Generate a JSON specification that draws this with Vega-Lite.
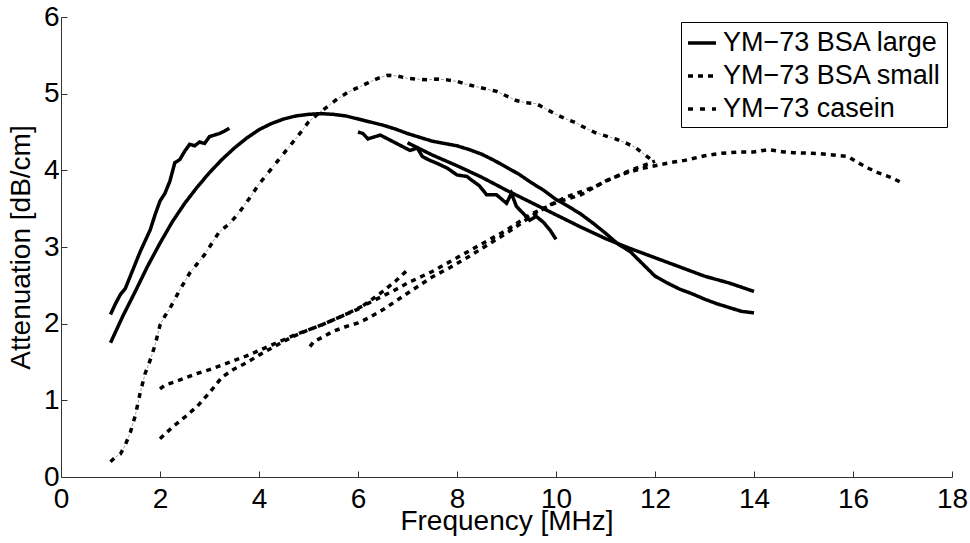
{
  "$schema": "https://vega.github.io/schema/vega-lite/v6.json",
  "width": 891,
  "height": 460,
  "autosize": {"type": "none"},
  "padding": {"left": 61, "top": 17, "right": 18, "bottom": 66},
  "background": "white",
  "config": {
    "view": {"stroke": null},
    "font": "Liberation Sans",
    "axis": {
      "labelFont": "Liberation Sans",
      "labelFontSize": 28,
      "labelColor": "black",
      "titleFont": "Liberation Sans",
      "titleFontSize": 28,
      "titleFontWeight": "normal",
      "titleColor": "black",
      "domainColor": "#333333",
      "tickColor": "#333333",
      "tickSize": -6,
      "grid": false,
      "labelOverlap": false,
      "labelFlush": false,
      "labelBound": false
    },
    "legend": {
      "orient": "top-right",
      "offset": 5,
      "strokeColor": "black",
      "fillColor": "white",
      "padding": 5,
      "cornerRadius": 0,
      "symbolType": "stroke",
      "symbolSize": 784,
      "symbolStrokeWidth": 3.5,
      "symbolStrokeColor": "black",
      "labelFont": "Liberation Sans",
      "labelFontSize": 27,
      "labelColor": "black",
      "labelOffset": 5,
      "labelLimit": 400,
      "rowPadding": 4
    }
  },
  "data": {
    "values": [
      {"s": "YM−73 BSA large", "g": "L1", "f": 1.0, "a": 2.12},
      {"s": "YM−73 BSA large", "g": "L1", "f": 1.1, "a": 2.26},
      {"s": "YM−73 BSA large", "g": "L1", "f": 1.2, "a": 2.38},
      {"s": "YM−73 BSA large", "g": "L1", "f": 1.3, "a": 2.46},
      {"s": "YM−73 BSA large", "g": "L1", "f": 1.4, "a": 2.62},
      {"s": "YM−73 BSA large", "g": "L1", "f": 1.5, "a": 2.78},
      {"s": "YM−73 BSA large", "g": "L1", "f": 1.6, "a": 2.94},
      {"s": "YM−73 BSA large", "g": "L1", "f": 1.7, "a": 3.08},
      {"s": "YM−73 BSA large", "g": "L1", "f": 1.8, "a": 3.22},
      {"s": "YM−73 BSA large", "g": "L1", "f": 1.9, "a": 3.42},
      {"s": "YM−73 BSA large", "g": "L1", "f": 2.0, "a": 3.6},
      {"s": "YM−73 BSA large", "g": "L1", "f": 2.1, "a": 3.7},
      {"s": "YM−73 BSA large", "g": "L1", "f": 2.2, "a": 3.86},
      {"s": "YM−73 BSA large", "g": "L1", "f": 2.3, "a": 4.1},
      {"s": "YM−73 BSA large", "g": "L1", "f": 2.4, "a": 4.14},
      {"s": "YM−73 BSA large", "g": "L1", "f": 2.5, "a": 4.25},
      {"s": "YM−73 BSA large", "g": "L1", "f": 2.6, "a": 4.34},
      {"s": "YM−73 BSA large", "g": "L1", "f": 2.7, "a": 4.32},
      {"s": "YM−73 BSA large", "g": "L1", "f": 2.8, "a": 4.37},
      {"s": "YM−73 BSA large", "g": "L1", "f": 2.9, "a": 4.35},
      {"s": "YM−73 BSA large", "g": "L1", "f": 3.0, "a": 4.44},
      {"s": "YM−73 BSA large", "g": "L1", "f": 3.1, "a": 4.46},
      {"s": "YM−73 BSA large", "g": "L1", "f": 3.2, "a": 4.48},
      {"s": "YM−73 BSA large", "g": "L1", "f": 3.3, "a": 4.51},
      {"s": "YM−73 BSA large", "g": "L1", "f": 3.4, "a": 4.55},

      {"s": "YM−73 BSA large", "g": "L2", "f": 1.0, "a": 1.75},
      {"s": "YM−73 BSA large", "g": "L2", "f": 1.25, "a": 2.1},
      {"s": "YM−73 BSA large", "g": "L2", "f": 1.5, "a": 2.42},
      {"s": "YM−73 BSA large", "g": "L2", "f": 1.75, "a": 2.75},
      {"s": "YM−73 BSA large", "g": "L2", "f": 2.0, "a": 3.05},
      {"s": "YM−73 BSA large", "g": "L2", "f": 2.25, "a": 3.33},
      {"s": "YM−73 BSA large", "g": "L2", "f": 2.5, "a": 3.57},
      {"s": "YM−73 BSA large", "g": "L2", "f": 2.75, "a": 3.78},
      {"s": "YM−73 BSA large", "g": "L2", "f": 3.0, "a": 3.97},
      {"s": "YM−73 BSA large", "g": "L2", "f": 3.25, "a": 4.14},
      {"s": "YM−73 BSA large", "g": "L2", "f": 3.5, "a": 4.29},
      {"s": "YM−73 BSA large", "g": "L2", "f": 3.75, "a": 4.42},
      {"s": "YM−73 BSA large", "g": "L2", "f": 4.0, "a": 4.53},
      {"s": "YM−73 BSA large", "g": "L2", "f": 4.25, "a": 4.61},
      {"s": "YM−73 BSA large", "g": "L2", "f": 4.5, "a": 4.67},
      {"s": "YM−73 BSA large", "g": "L2", "f": 4.75, "a": 4.71},
      {"s": "YM−73 BSA large", "g": "L2", "f": 5.0, "a": 4.73},
      {"s": "YM−73 BSA large", "g": "L2", "f": 5.25, "a": 4.74},
      {"s": "YM−73 BSA large", "g": "L2", "f": 5.5, "a": 4.73},
      {"s": "YM−73 BSA large", "g": "L2", "f": 5.75, "a": 4.71},
      {"s": "YM−73 BSA large", "g": "L2", "f": 6.0, "a": 4.67},
      {"s": "YM−73 BSA large", "g": "L2", "f": 6.25, "a": 4.63},
      {"s": "YM−73 BSA large", "g": "L2", "f": 6.5, "a": 4.59},
      {"s": "YM−73 BSA large", "g": "L2", "f": 6.75, "a": 4.54},
      {"s": "YM−73 BSA large", "g": "L2", "f": 7.0, "a": 4.48},
      {"s": "YM−73 BSA large", "g": "L2", "f": 7.25, "a": 4.43},
      {"s": "YM−73 BSA large", "g": "L2", "f": 7.5, "a": 4.38},
      {"s": "YM−73 BSA large", "g": "L2", "f": 7.75, "a": 4.35},
      {"s": "YM−73 BSA large", "g": "L2", "f": 8.0, "a": 4.32},
      {"s": "YM−73 BSA large", "g": "L2", "f": 8.25, "a": 4.27},
      {"s": "YM−73 BSA large", "g": "L2", "f": 8.5, "a": 4.21},
      {"s": "YM−73 BSA large", "g": "L2", "f": 8.75, "a": 4.13},
      {"s": "YM−73 BSA large", "g": "L2", "f": 9.0, "a": 4.04},
      {"s": "YM−73 BSA large", "g": "L2", "f": 9.25, "a": 3.95},
      {"s": "YM−73 BSA large", "g": "L2", "f": 9.5, "a": 3.84},
      {"s": "YM−73 BSA large", "g": "L2", "f": 9.75, "a": 3.74},
      {"s": "YM−73 BSA large", "g": "L2", "f": 10.0, "a": 3.62},
      {"s": "YM−73 BSA large", "g": "L2", "f": 10.25, "a": 3.53},
      {"s": "YM−73 BSA large", "g": "L2", "f": 10.5, "a": 3.43},
      {"s": "YM−73 BSA large", "g": "L2", "f": 10.75, "a": 3.31},
      {"s": "YM−73 BSA large", "g": "L2", "f": 11.0, "a": 3.18},
      {"s": "YM−73 BSA large", "g": "L2", "f": 11.25, "a": 3.04},
      {"s": "YM−73 BSA large", "g": "L2", "f": 11.5, "a": 2.94},
      {"s": "YM−73 BSA large", "g": "L2", "f": 11.75, "a": 2.78},
      {"s": "YM−73 BSA large", "g": "L2", "f": 12.0, "a": 2.62},
      {"s": "YM−73 BSA large", "g": "L2", "f": 12.25, "a": 2.53},
      {"s": "YM−73 BSA large", "g": "L2", "f": 12.5, "a": 2.45},
      {"s": "YM−73 BSA large", "g": "L2", "f": 12.75, "a": 2.39},
      {"s": "YM−73 BSA large", "g": "L2", "f": 13.0, "a": 2.32},
      {"s": "YM−73 BSA large", "g": "L2", "f": 13.25, "a": 2.26},
      {"s": "YM−73 BSA large", "g": "L2", "f": 13.5, "a": 2.21},
      {"s": "YM−73 BSA large", "g": "L2", "f": 13.75, "a": 2.16},
      {"s": "YM−73 BSA large", "g": "L2", "f": 14.0, "a": 2.14},

      {"s": "YM−73 BSA large", "g": "L3", "f": 7.0, "a": 4.36},
      {"s": "YM−73 BSA large", "g": "L3", "f": 7.5, "a": 4.2},
      {"s": "YM−73 BSA large", "g": "L3", "f": 8.0, "a": 4.06},
      {"s": "YM−73 BSA large", "g": "L3", "f": 8.5, "a": 3.91},
      {"s": "YM−73 BSA large", "g": "L3", "f": 9.0, "a": 3.74},
      {"s": "YM−73 BSA large", "g": "L3", "f": 9.5, "a": 3.58},
      {"s": "YM−73 BSA large", "g": "L3", "f": 10.0, "a": 3.42},
      {"s": "YM−73 BSA large", "g": "L3", "f": 10.5, "a": 3.26},
      {"s": "YM−73 BSA large", "g": "L3", "f": 11.0, "a": 3.11},
      {"s": "YM−73 BSA large", "g": "L3", "f": 11.5, "a": 2.98},
      {"s": "YM−73 BSA large", "g": "L3", "f": 12.0, "a": 2.86},
      {"s": "YM−73 BSA large", "g": "L3", "f": 12.5, "a": 2.74},
      {"s": "YM−73 BSA large", "g": "L3", "f": 13.0, "a": 2.62},
      {"s": "YM−73 BSA large", "g": "L3", "f": 13.5, "a": 2.53},
      {"s": "YM−73 BSA large", "g": "L3", "f": 14.0, "a": 2.42},

      {"s": "YM−73 BSA large", "g": "L4", "f": 6.0, "a": 4.5},
      {"s": "YM−73 BSA large", "g": "L4", "f": 6.1, "a": 4.48},
      {"s": "YM−73 BSA large", "g": "L4", "f": 6.2, "a": 4.41},
      {"s": "YM−73 BSA large", "g": "L4", "f": 6.3, "a": 4.43},
      {"s": "YM−73 BSA large", "g": "L4", "f": 6.45, "a": 4.46},
      {"s": "YM−73 BSA large", "g": "L4", "f": 6.6, "a": 4.41},
      {"s": "YM−73 BSA large", "g": "L4", "f": 6.75, "a": 4.36},
      {"s": "YM−73 BSA large", "g": "L4", "f": 6.9, "a": 4.31},
      {"s": "YM−73 BSA large", "g": "L4", "f": 7.05, "a": 4.26},
      {"s": "YM−73 BSA large", "g": "L4", "f": 7.2, "a": 4.29},
      {"s": "YM−73 BSA large", "g": "L4", "f": 7.3, "a": 4.18},
      {"s": "YM−73 BSA large", "g": "L4", "f": 7.45, "a": 4.13},
      {"s": "YM−73 BSA large", "g": "L4", "f": 7.6, "a": 4.09},
      {"s": "YM−73 BSA large", "g": "L4", "f": 7.8, "a": 4.03},
      {"s": "YM−73 BSA large", "g": "L4", "f": 8.0, "a": 3.94},
      {"s": "YM−73 BSA large", "g": "L4", "f": 8.2, "a": 3.92},
      {"s": "YM−73 BSA large", "g": "L4", "f": 8.3, "a": 3.87},
      {"s": "YM−73 BSA large", "g": "L4", "f": 8.45, "a": 3.8},
      {"s": "YM−73 BSA large", "g": "L4", "f": 8.6, "a": 3.68},
      {"s": "YM−73 BSA large", "g": "L4", "f": 8.8, "a": 3.68},
      {"s": "YM−73 BSA large", "g": "L4", "f": 9.0, "a": 3.57},
      {"s": "YM−73 BSA large", "g": "L4", "f": 9.1, "a": 3.7},
      {"s": "YM−73 BSA large", "g": "L4", "f": 9.2, "a": 3.53},
      {"s": "YM−73 BSA large", "g": "L4", "f": 9.35, "a": 3.43},
      {"s": "YM−73 BSA large", "g": "L4", "f": 9.47, "a": 3.35},
      {"s": "YM−73 BSA large", "g": "L4", "f": 9.6, "a": 3.4},
      {"s": "YM−73 BSA large", "g": "L4", "f": 9.75, "a": 3.32},
      {"s": "YM−73 BSA large", "g": "L4", "f": 9.88, "a": 3.22},
      {"s": "YM−73 BSA large", "g": "L4", "f": 10.0, "a": 3.1},

      {"s": "YM−73 BSA small", "g": "M1", "f": 2.0, "a": 1.15},
      {"s": "YM−73 BSA small", "g": "M1", "f": 2.1, "a": 1.2},
      {"s": "YM−73 BSA small", "g": "M1", "f": 2.3, "a": 1.24},
      {"s": "YM−73 BSA small", "g": "M1", "f": 2.5, "a": 1.29},
      {"s": "YM−73 BSA small", "g": "M1", "f": 2.75, "a": 1.35},
      {"s": "YM−73 BSA small", "g": "M1", "f": 3.0, "a": 1.4},
      {"s": "YM−73 BSA small", "g": "M1", "f": 3.25, "a": 1.46},
      {"s": "YM−73 BSA small", "g": "M1", "f": 3.5, "a": 1.52},
      {"s": "YM−73 BSA small", "g": "M1", "f": 3.75, "a": 1.58},
      {"s": "YM−73 BSA small", "g": "M1", "f": 4.0, "a": 1.65},
      {"s": "YM−73 BSA small", "g": "M1", "f": 4.25, "a": 1.72},
      {"s": "YM−73 BSA small", "g": "M1", "f": 4.5, "a": 1.79},
      {"s": "YM−73 BSA small", "g": "M1", "f": 4.75, "a": 1.86},
      {"s": "YM−73 BSA small", "g": "M1", "f": 5.0, "a": 1.92},
      {"s": "YM−73 BSA small", "g": "M1", "f": 5.25, "a": 1.98},
      {"s": "YM−73 BSA small", "g": "M1", "f": 5.5, "a": 2.05},
      {"s": "YM−73 BSA small", "g": "M1", "f": 5.75, "a": 2.12},
      {"s": "YM−73 BSA small", "g": "M1", "f": 6.0, "a": 2.19},
      {"s": "YM−73 BSA small", "g": "M1", "f": 6.25, "a": 2.3},
      {"s": "YM−73 BSA small", "g": "M1", "f": 6.5, "a": 2.42},
      {"s": "YM−73 BSA small", "g": "M1", "f": 6.75, "a": 2.55},
      {"s": "YM−73 BSA small", "g": "M1", "f": 7.0, "a": 2.7},

      {"s": "YM−73 BSA small", "g": "M2", "f": 2.0, "a": 0.5},
      {"s": "YM−73 BSA small", "g": "M2", "f": 2.25, "a": 0.65},
      {"s": "YM−73 BSA small", "g": "M2", "f": 2.5, "a": 0.78},
      {"s": "YM−73 BSA small", "g": "M2", "f": 2.75, "a": 0.92},
      {"s": "YM−73 BSA small", "g": "M2", "f": 3.0, "a": 1.1},
      {"s": "YM−73 BSA small", "g": "M2", "f": 3.25, "a": 1.3},
      {"s": "YM−73 BSA small", "g": "M2", "f": 3.5, "a": 1.41},
      {"s": "YM−73 BSA small", "g": "M2", "f": 3.75, "a": 1.49},
      {"s": "YM−73 BSA small", "g": "M2", "f": 4.0, "a": 1.59},
      {"s": "YM−73 BSA small", "g": "M2", "f": 4.25, "a": 1.68},
      {"s": "YM−73 BSA small", "g": "M2", "f": 4.5, "a": 1.77},
      {"s": "YM−73 BSA small", "g": "M2", "f": 4.75, "a": 1.85},
      {"s": "YM−73 BSA small", "g": "M2", "f": 5.0, "a": 1.92},
      {"s": "YM−73 BSA small", "g": "M2", "f": 5.25, "a": 1.98},
      {"s": "YM−73 BSA small", "g": "M2", "f": 5.5, "a": 2.05},
      {"s": "YM−73 BSA small", "g": "M2", "f": 5.75, "a": 2.12},
      {"s": "YM−73 BSA small", "g": "M2", "f": 6.0, "a": 2.2},
      {"s": "YM−73 BSA small", "g": "M2", "f": 6.25, "a": 2.28},
      {"s": "YM−73 BSA small", "g": "M2", "f": 6.5, "a": 2.36},
      {"s": "YM−73 BSA small", "g": "M2", "f": 6.75, "a": 2.44},
      {"s": "YM−73 BSA small", "g": "M2", "f": 7.0, "a": 2.53},
      {"s": "YM−73 BSA small", "g": "M2", "f": 7.5, "a": 2.68},
      {"s": "YM−73 BSA small", "g": "M2", "f": 8.0, "a": 2.86},
      {"s": "YM−73 BSA small", "g": "M2", "f": 8.5, "a": 3.04},
      {"s": "YM−73 BSA small", "g": "M2", "f": 9.0, "a": 3.22},
      {"s": "YM−73 BSA small", "g": "M2", "f": 9.5, "a": 3.43},
      {"s": "YM−73 BSA small", "g": "M2", "f": 10.0, "a": 3.58},
      {"s": "YM−73 BSA small", "g": "M2", "f": 10.5, "a": 3.68},
      {"s": "YM−73 BSA small", "g": "M2", "f": 11.0, "a": 3.86},
      {"s": "YM−73 BSA small", "g": "M2", "f": 11.5, "a": 4.0},
      {"s": "YM−73 BSA small", "g": "M2", "f": 12.0, "a": 4.12},

      {"s": "YM−73 BSA small", "g": "M3", "f": 5.03, "a": 1.7},
      {"s": "YM−73 BSA small", "g": "M3", "f": 5.1, "a": 1.76},
      {"s": "YM−73 BSA small", "g": "M3", "f": 5.3, "a": 1.83},
      {"s": "YM−73 BSA small", "g": "M3", "f": 5.5, "a": 1.9},
      {"s": "YM−73 BSA small", "g": "M3", "f": 5.75, "a": 1.96},
      {"s": "YM−73 BSA small", "g": "M3", "f": 6.0, "a": 2.01},
      {"s": "YM−73 BSA small", "g": "M3", "f": 6.2, "a": 2.07},
      {"s": "YM−73 BSA small", "g": "M3", "f": 6.5, "a": 2.18},
      {"s": "YM−73 BSA small", "g": "M3", "f": 6.8, "a": 2.31},
      {"s": "YM−73 BSA small", "g": "M3", "f": 7.1, "a": 2.44},
      {"s": "YM−73 BSA small", "g": "M3", "f": 7.5, "a": 2.61},
      {"s": "YM−73 BSA small", "g": "M3", "f": 7.85, "a": 2.73},
      {"s": "YM−73 BSA small", "g": "M3", "f": 8.2, "a": 2.86},
      {"s": "YM−73 BSA small", "g": "M3", "f": 8.6, "a": 3.02},
      {"s": "YM−73 BSA small", "g": "M3", "f": 9.0, "a": 3.18},
      {"s": "YM−73 BSA small", "g": "M3", "f": 9.5, "a": 3.4},
      {"s": "YM−73 BSA small", "g": "M3", "f": 9.85, "a": 3.54},
      {"s": "YM−73 BSA small", "g": "M3", "f": 10.2, "a": 3.65},
      {"s": "YM−73 BSA small", "g": "M3", "f": 10.5, "a": 3.72},
      {"s": "YM−73 BSA small", "g": "M3", "f": 10.8, "a": 3.79},
      {"s": "YM−73 BSA small", "g": "M3", "f": 11.0, "a": 3.86},
      {"s": "YM−73 BSA small", "g": "M3", "f": 11.3, "a": 3.94},
      {"s": "YM−73 BSA small", "g": "M3", "f": 11.7, "a": 4.02},
      {"s": "YM−73 BSA small", "g": "M3", "f": 12.0, "a": 4.06},
      {"s": "YM−73 BSA small", "g": "M3", "f": 12.3, "a": 4.1},
      {"s": "YM−73 BSA small", "g": "M3", "f": 12.6, "a": 4.13},
      {"s": "YM−73 BSA small", "g": "M3", "f": 13.0, "a": 4.19},
      {"s": "YM−73 BSA small", "g": "M3", "f": 13.3, "a": 4.22},
      {"s": "YM−73 BSA small", "g": "M3", "f": 13.7, "a": 4.24},
      {"s": "YM−73 BSA small", "g": "M3", "f": 14.0, "a": 4.24},
      {"s": "YM−73 BSA small", "g": "M3", "f": 14.3, "a": 4.27},
      {"s": "YM−73 BSA small", "g": "M3", "f": 14.6, "a": 4.24},
      {"s": "YM−73 BSA small", "g": "M3", "f": 14.8, "a": 4.23},
      {"s": "YM−73 BSA small", "g": "M3", "f": 15.3, "a": 4.22},
      {"s": "YM−73 BSA small", "g": "M3", "f": 15.6, "a": 4.2},
      {"s": "YM−73 BSA small", "g": "M3", "f": 15.9, "a": 4.18},
      {"s": "YM−73 BSA small", "g": "M3", "f": 16.1, "a": 4.1},
      {"s": "YM−73 BSA small", "g": "M3", "f": 16.3, "a": 4.03},
      {"s": "YM−73 BSA small", "g": "M3", "f": 16.5, "a": 3.97},
      {"s": "YM−73 BSA small", "g": "M3", "f": 16.8, "a": 3.9},
      {"s": "YM−73 BSA small", "g": "M3", "f": 17.0, "a": 3.83},

      {"s": "YM−73 casein", "g": "C1", "f": 1.0, "a": 0.2},
      {"s": "YM−73 casein", "g": "C1", "f": 1.1, "a": 0.26},
      {"s": "YM−73 casein", "g": "C1", "f": 1.2, "a": 0.3},
      {"s": "YM−73 casein", "g": "C1", "f": 1.3, "a": 0.42},
      {"s": "YM−73 casein", "g": "C1", "f": 1.4, "a": 0.58},
      {"s": "YM−73 casein", "g": "C1", "f": 1.5, "a": 0.8},
      {"s": "YM−73 casein", "g": "C1", "f": 1.6, "a": 1.1},
      {"s": "YM−73 casein", "g": "C1", "f": 1.7, "a": 1.35},
      {"s": "YM−73 casein", "g": "C1", "f": 1.8, "a": 1.52},
      {"s": "YM−73 casein", "g": "C1", "f": 1.9, "a": 1.72},
      {"s": "YM−73 casein", "g": "C1", "f": 2.0, "a": 1.98},
      {"s": "YM−73 casein", "g": "C1", "f": 2.1, "a": 2.1},
      {"s": "YM−73 casein", "g": "C1", "f": 2.2, "a": 2.2},
      {"s": "YM−73 casein", "g": "C1", "f": 2.3, "a": 2.32},
      {"s": "YM−73 casein", "g": "C1", "f": 2.4, "a": 2.44},
      {"s": "YM−73 casein", "g": "C1", "f": 2.5, "a": 2.55},
      {"s": "YM−73 casein", "g": "C1", "f": 2.6, "a": 2.66},
      {"s": "YM−73 casein", "g": "C1", "f": 2.75, "a": 2.78},
      {"s": "YM−73 casein", "g": "C1", "f": 2.9, "a": 2.9},
      {"s": "YM−73 casein", "g": "C1", "f": 3.0, "a": 3.0},
      {"s": "YM−73 casein", "g": "C1", "f": 3.2, "a": 3.2},
      {"s": "YM−73 casein", "g": "C1", "f": 3.4, "a": 3.3},
      {"s": "YM−73 casein", "g": "C1", "f": 3.6, "a": 3.45},
      {"s": "YM−73 casein", "g": "C1", "f": 3.8, "a": 3.63},
      {"s": "YM−73 casein", "g": "C1", "f": 4.0, "a": 3.82},
      {"s": "YM−73 casein", "g": "C1", "f": 4.2, "a": 3.98},
      {"s": "YM−73 casein", "g": "C1", "f": 4.4, "a": 4.14},
      {"s": "YM−73 casein", "g": "C1", "f": 4.6, "a": 4.3},
      {"s": "YM−73 casein", "g": "C1", "f": 4.8, "a": 4.46},
      {"s": "YM−73 casein", "g": "C1", "f": 5.0, "a": 4.63},
      {"s": "YM−73 casein", "g": "C1", "f": 5.2, "a": 4.74},
      {"s": "YM−73 casein", "g": "C1", "f": 5.4, "a": 4.84},
      {"s": "YM−73 casein", "g": "C1", "f": 5.6, "a": 4.94},
      {"s": "YM−73 casein", "g": "C1", "f": 5.8, "a": 5.02},
      {"s": "YM−73 casein", "g": "C1", "f": 6.0, "a": 5.08},
      {"s": "YM−73 casein", "g": "C1", "f": 6.2, "a": 5.14},
      {"s": "YM−73 casein", "g": "C1", "f": 6.4, "a": 5.2},
      {"s": "YM−73 casein", "g": "C1", "f": 6.6, "a": 5.24},
      {"s": "YM−73 casein", "g": "C1", "f": 6.8, "a": 5.23},
      {"s": "YM−73 casein", "g": "C1", "f": 7.0, "a": 5.2},
      {"s": "YM−73 casein", "g": "C1", "f": 7.2, "a": 5.19},
      {"s": "YM−73 casein", "g": "C1", "f": 7.4, "a": 5.18},
      {"s": "YM−73 casein", "g": "C1", "f": 7.6, "a": 5.19},
      {"s": "YM−73 casein", "g": "C1", "f": 7.8, "a": 5.18},
      {"s": "YM−73 casein", "g": "C1", "f": 8.0, "a": 5.16},
      {"s": "YM−73 casein", "g": "C1", "f": 8.2, "a": 5.12},
      {"s": "YM−73 casein", "g": "C1", "f": 8.4, "a": 5.09},
      {"s": "YM−73 casein", "g": "C1", "f": 8.6, "a": 5.06},
      {"s": "YM−73 casein", "g": "C1", "f": 8.8, "a": 5.03},
      {"s": "YM−73 casein", "g": "C1", "f": 9.0, "a": 4.97},
      {"s": "YM−73 casein", "g": "C1", "f": 9.2, "a": 4.91},
      {"s": "YM−73 casein", "g": "C1", "f": 9.4, "a": 4.88},
      {"s": "YM−73 casein", "g": "C1", "f": 9.6, "a": 4.87},
      {"s": "YM−73 casein", "g": "C1", "f": 9.8, "a": 4.8},
      {"s": "YM−73 casein", "g": "C1", "f": 10.0, "a": 4.73},
      {"s": "YM−73 casein", "g": "C1", "f": 10.2, "a": 4.67},
      {"s": "YM−73 casein", "g": "C1", "f": 10.4, "a": 4.62},
      {"s": "YM−73 casein", "g": "C1", "f": 10.6, "a": 4.55},
      {"s": "YM−73 casein", "g": "C1", "f": 10.8, "a": 4.49},
      {"s": "YM−73 casein", "g": "C1", "f": 11.0, "a": 4.45},
      {"s": "YM−73 casein", "g": "C1", "f": 11.2, "a": 4.41},
      {"s": "YM−73 casein", "g": "C1", "f": 11.4, "a": 4.36},
      {"s": "YM−73 casein", "g": "C1", "f": 11.6, "a": 4.3},
      {"s": "YM−73 casein", "g": "C1", "f": 11.8, "a": 4.2},
      {"s": "YM−73 casein", "g": "C1", "f": 12.0, "a": 4.1}
    ]
  },
  "encoding": {
    "x": {
      "field": "f",
      "type": "quantitative",
      "scale": {"domain": [0, 18], "nice": false, "zero": false},
      "axis": {"title": "Frequency [MHz]", "values": [0, 2, 4, 6, 8, 10, 12, 14, 16, 18], "labelPadding": 14, "titlePadding": -6}
    },
    "y": {
      "field": "a",
      "type": "quantitative",
      "scale": {"domain": [0, 6], "nice": false, "zero": false},
      "axis": {"title": "Attenuation [dB/cm]", "values": [0, 1, 2, 3, 4, 5, 6], "labelPadding": 8, "titlePadding": 8}
    },
    "detail": {"field": "g"}
  },
  "layer": [
    {
      "transform": [{"filter": "datum.s === 'YM−73 casein'"}],
      "mark": {"type": "line", "color": "#a0a0a0", "strokeWidth": 1, "strokeDash": [3, 9], "strokeDashOffset": 5}
    },
    {
      "mark": {"type": "line", "color": "black", "strokeWidth": 3.5},
      "encoding": {
        "strokeDash": {
          "field": "s",
          "type": "nominal",
          "scale": {
            "domain": ["YM−73 BSA large", "YM−73 BSA small", "YM−73 casein"],
            "range": [[1, 0], [5, 5], [5, 7]]
          },
          "legend": {"title": null}
        }
      }
    }
  ]
}
